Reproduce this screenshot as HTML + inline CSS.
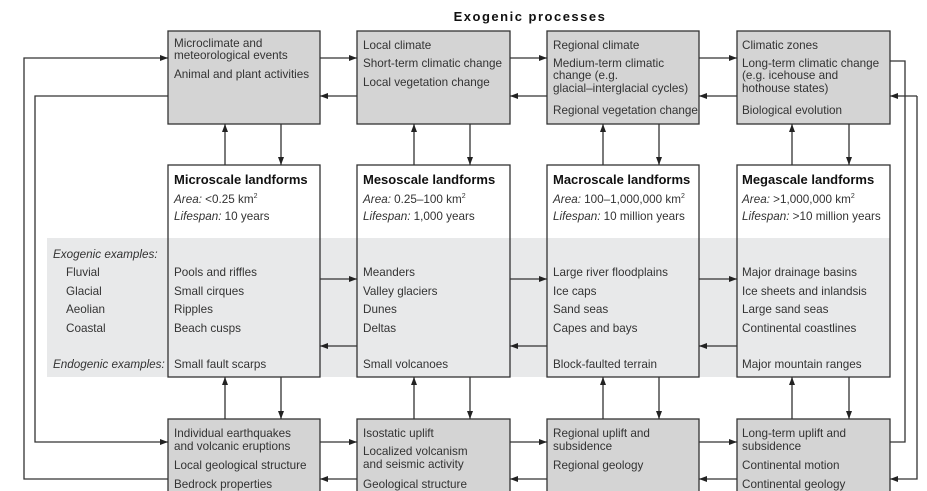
<!DOCTYPE html>
<html><head><meta charset="utf-8"><style>
html,body{margin:0;padding:0;background:#fff;width:927px;height:491px;overflow:hidden}
svg text{font-family:"Liberation Sans",sans-serif;font-size:11.7px;fill:#333}
.b{font-weight:bold;font-size:13px;fill:#111}
.i{font-style:italic}
</style></head><body>
<svg width="927" height="491" viewBox="0 0 927 491">
<defs><marker id="a" markerWidth="8" markerHeight="6" refX="8" refY="3" orient="auto" markerUnits="userSpaceOnUse"><path d="M0,0 L8,3 L0,6 Z" fill="#222"/></marker></defs>
<text x="530" y="21" text-anchor="middle" style="font-weight:bold;font-size:13px;letter-spacing:1.5px;fill:#111">Exogenic processes</text>
<rect x="47" y="238" width="843" height="139" fill="#e8e9ea"/>
<g stroke="#333" stroke-width="1.3">
<rect x="168" y="31" width="152" height="93" fill="#d4d4d4"/>
<rect x="357" y="31" width="153" height="93" fill="#d4d4d4"/>
<rect x="547" y="31" width="152" height="93" fill="#d4d4d4"/>
<rect x="737" y="31" width="153" height="93" fill="#d4d4d4"/>
<g fill="none">
<rect x="168" y="165" width="152" height="212"/>
<rect x="357" y="165" width="153" height="212"/>
<rect x="547" y="165" width="152" height="212"/>
<rect x="737" y="165" width="153" height="212"/>
</g>
<rect x="168" y="419" width="152" height="80" fill="#d4d4d4"/>
<rect x="357" y="419" width="153" height="80" fill="#d4d4d4"/>
<rect x="547" y="419" width="152" height="80" fill="#d4d4d4"/>
<rect x="737" y="419" width="153" height="80" fill="#d4d4d4"/>
<g fill="none" marker-end="url(#a)">
<path d="M320 58H357"/><path d="M510 58H547"/><path d="M699 58H737"/>
<path d="M320 279H357"/><path d="M510 279H547"/><path d="M699 279H737"/>
<path d="M320 442H357"/><path d="M510 442H547"/><path d="M699 442H737"/>
<path d="M357 96H320"/><path d="M547 96H510"/><path d="M737 96H699"/>
<path d="M357 346H320"/><path d="M547 346H510"/><path d="M737 346H699"/>
<path d="M357 479H320"/><path d="M547 479H510"/><path d="M737 479H699"/>
<path d="M225 165V124"/><path d="M414 165V124"/><path d="M603 165V124"/><path d="M792 165V124"/>
<path d="M225 419V377"/><path d="M414 419V377"/><path d="M603 419V377"/><path d="M792 419V377"/>
<path d="M281 124V165"/><path d="M470 124V165"/><path d="M659 124V165"/><path d="M849 124V165"/>
<path d="M281 377V419"/><path d="M470 377V419"/><path d="M659 377V419"/><path d="M849 377V419"/>
<path d="M168 479H24V58H168"/>
<path d="M168 96H35V442H168"/>
<path d="M917 96V479H890"/>
<path d="M917 96H890"/>
</g>
<path d="M890 61H905V442H890" fill="none"/>
</g>
<text x="174" y="47">Microclimate and</text><text x="174" y="59">meteorological events</text><text x="174" y="78">Animal and plant activities</text>
<text x="363" y="49">Local climate</text><text x="363" y="67">Short-term climatic change</text><text x="363" y="86">Local vegetation change</text>
<text x="553" y="49">Regional climate</text><text x="553" y="67">Medium-term climatic</text><text x="553" y="79">change (e.g.</text><text x="553" y="92">glacial–interglacial cycles)</text><text x="553" y="114">Regional vegetation change</text>
<text x="742" y="49">Climatic zones</text><text x="742" y="67">Long-term climatic change</text><text x="742" y="79">(e.g. icehouse and</text><text x="742" y="92">hothouse states)</text><text x="742" y="114">Biological evolution</text>
<text class="b" x="174" y="184">Microscale landforms</text>
<text x="174" y="203"><tspan class="i">Area:</tspan> &lt;0.25 km<tspan dy="-5" font-size="7">2</tspan></text>
<text x="174" y="220"><tspan class="i">Lifespan:</tspan> 10 years</text>
<text class="b" x="363" y="184">Mesoscale landforms</text>
<text x="363" y="203"><tspan class="i">Area:</tspan> 0.25–100 km<tspan dy="-5" font-size="7">2</tspan></text>
<text x="363" y="220"><tspan class="i">Lifespan:</tspan> 1,000 years</text>
<text class="b" x="553" y="184">Macroscale landforms</text>
<text x="553" y="203"><tspan class="i">Area:</tspan> 100–1,000,000 km<tspan dy="-5" font-size="7">2</tspan></text>
<text x="553" y="220"><tspan class="i">Lifespan:</tspan> 10 million years</text>
<text class="b" x="742" y="184">Megascale landforms</text>
<text x="742" y="203"><tspan class="i">Area:</tspan> &gt;1,000,000 km<tspan dy="-5" font-size="7">2</tspan></text>
<text x="742" y="220"><tspan class="i">Lifespan:</tspan> &gt;10 million years</text>
<text class="i" x="53" y="258">Exogenic examples:</text>
<text x="66" y="276">Fluvial</text><text x="66" y="295">Glacial</text><text x="66" y="313">Aeolian</text><text x="66" y="332">Coastal</text>
<text class="i" x="53" y="368">Endogenic examples:</text>
<text x="174" y="276">Pools and riffles</text><text x="174" y="295">Small cirques</text><text x="174" y="313">Ripples</text><text x="174" y="332">Beach cusps</text><text x="174" y="368">Small fault scarps</text>
<text x="363" y="276">Meanders</text><text x="363" y="295">Valley glaciers</text><text x="363" y="313">Dunes</text><text x="363" y="332">Deltas</text><text x="363" y="368">Small volcanoes</text>
<text x="553" y="276">Large river floodplains</text><text x="553" y="295">Ice caps</text><text x="553" y="313">Sand seas</text><text x="553" y="332">Capes and bays</text><text x="553" y="368">Block-faulted terrain</text>
<text x="742" y="276">Major drainage basins</text><text x="742" y="295">Ice sheets and inlandsis</text><text x="742" y="313">Large sand seas</text><text x="742" y="332">Continental coastlines</text><text x="742" y="368">Major mountain ranges</text>
<text x="174" y="437">Individual earthquakes</text><text x="174" y="450">and volcanic eruptions</text><text x="174" y="469">Local geological structure</text><text x="174" y="488">Bedrock properties</text>
<text x="363" y="437">Isostatic uplift</text><text x="363" y="455">Localized volcanism</text><text x="363" y="468">and seismic activity</text><text x="363" y="488">Geological structure</text>
<text x="553" y="437">Regional uplift and</text><text x="553" y="450">subsidence</text><text x="553" y="469">Regional geology</text>
<text x="742" y="437">Long-term uplift and</text><text x="742" y="450">subsidence</text><text x="742" y="469">Continental motion</text><text x="742" y="488">Continental geology</text>
</svg>
</body></html>
